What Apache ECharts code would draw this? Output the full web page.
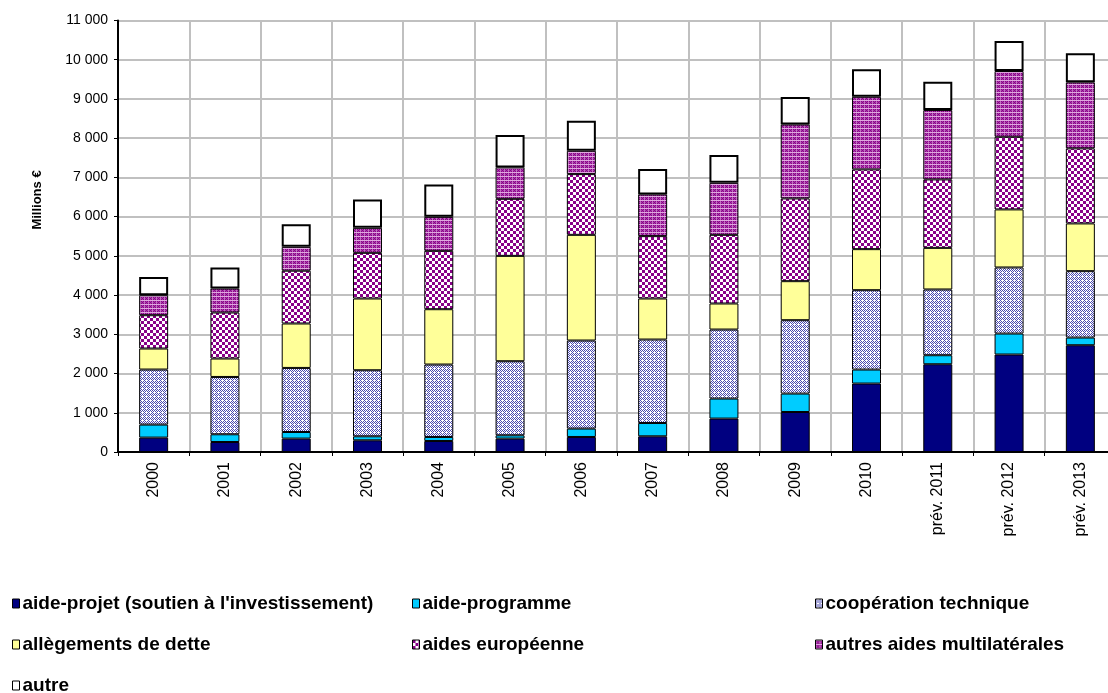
<!DOCTYPE html>
<html>
<head>
<meta charset="utf-8">
<title>Aide publique au développement</title>
<script src="https://cdn.jsdelivr.net/npm/echarts@6/dist/echarts.min.js"></script>
<style>
  html, body { margin: 0; padding: 0; background: #fff; }
  #chart { width: 1108px; height: 693px; }
</style>
</head>
<body>
<div id="chart"></div>
<script>
// années (axe des x)
var categories = ['2000', '2001', '2002', '2003', '2004', '2005', '2006', '2007', '2008', '2009', '2010', 'prév. 2011', 'prév. 2012', 'prév. 2013'];

// valeurs en millions d'euros
var aideProjet       = [367, 255, 342, 298, 281, 342, 383, 400, 852, 1020, 1745, 2237, 2485, 2722];
var aideProgramme    = [332, 197, 168, 102, 102, 84, 214, 340, 510, 470, 357, 230, 535, 196];
var coopTechnique    = [1403, 1461, 1633, 1684, 1847, 1888, 2245, 2127, 1760, 1870, 2023, 1676, 1684, 1692];
var allegementsDette = [536, 470, 1133, 1829, 1410, 2686, 2694, 1046, 664, 995, 1046, 1061, 1480, 1217];
var aidesEuropeenne  = [849, 1173, 1346, 1164, 1488, 1454, 1548, 1590, 1750, 2109, 2033, 1745, 1852, 1913];
var autresMulti      = [510, 612, 608, 637, 867, 801, 595, 1063, 1326, 1886, 1852, 1768, 1676, 1683];
var autre            = [467, 536, 579, 725, 826, 825, 765, 646, 707, 700, 699, 722, 765, 740];

var yMax = 11000;
var yStep = 1000;

// petits motifs façon Excel
function pattern (w, h, fn) {
  var c = document.createElement('canvas');
  c.width = w;
  c.height = h;
  var ctx = c.getContext('2d');
  for (var y = 0; y < h; y++) {
    for (var x = 0; x < w; x++) {
      ctx.fillStyle = fn(x, y);
      ctx.fillRect(x, y, 1, 1);
    }
  }
  return { image: c, repeat: 'repeat' };
}

var coopFill = pattern(4, 4, function (x, y) {
  return ((x + y) % 2 === 0 && !(x === 2 && y === 0)) ? '#4b4bb0' : '#ffffff';
});
var euroFill = pattern(6, 6, function (x, y) {
  return ((Math.floor(x / 3) + Math.floor(y / 3)) % 2 === 0) ? '#880088' : '#ffffff';
});
var multiFill = pattern(4, 4, function (x, y) {
  if (y === 0) return '#e0a8e0';
  if (x === 0) return '#c070c0';
  return (x + y) % 2 === 0 ? '#8a008a' : '#a840a8';
});

var font = '"Liberation Sans", Arial, sans-serif';

function serie (name, data, fill, bw) {
  return {
    name: name,
    type: 'bar',
    stack: 'total',
    barWidth: 29,
    data: data,
    itemStyle: { color: fill, borderColor: '#000', borderWidth: bw || 1 },
    emphasis: { disabled: true }
  };
}

function legendItem (name, left, top) {
  return {
    data: [name],
    left: left,
    top: top,
    padding: 0,
    itemWidth: 7,
    itemHeight: 9,
    icon: 'rect',
    itemStyle: { borderColor: '#000', borderWidth: 1 },
    textStyle: { fontFamily: font, fontSize: 19, fontWeight: 'bold', color: '#000', padding: [0, 0, 0, -2] },
    selectedMode: false
  };
}

var chart = echarts.init(document.getElementById('chart'));
chart.setOption({
  animation: false,
  grid: { left: 118, width: 998, top: 20.5, bottom: 241, outerBoundsMode: 'none', containLabel: false },
  xAxis: {
    type: 'category',
    data: categories,
    axisLine: { lineStyle: { color: '#000', width: 2 } },
    axisTick: { show: true, length: 4, lineStyle: { color: '#000', width: 1 } },
    splitLine: { show: true, lineStyle: { color: '#c0c0c0', width: 2 } },
    axisLabel: { rotate: 90, margin: 10, fontFamily: font, fontSize: 16, color: '#000' }
  },
  yAxis: {
    type: 'value',
    min: 0,
    max: yMax,
    interval: yStep,
    axisLine: { show: true, lineStyle: { color: '#000', width: 2 } },
    axisTick: { show: true, length: 4, lineStyle: { color: '#000', width: 1 } },
    splitLine: { show: true, lineStyle: { color: '#c0c0c0', width: 2 } },
    axisLabel: {
      margin: 10,
      fontFamily: font,
      fontSize: 14,
      color: '#000',
      formatter: function (v) {
        return String(v).replace(/\B(?=(\d{3})+(?!\d))/g, ' ');
      }
    }
  },
  graphic: [{
    type: 'text',
    x: 37,
    y: 200,
    rotation: Math.PI / 2,
    style: {
      text: 'Millions €',
      fontFamily: font,
      fontSize: 13,
      fontWeight: 'bold',
      fill: '#000',
      align: 'center',
      verticalAlign: 'middle'
    }
  }],
  legend: [
    legendItem("aide-projet (soutien à l'investissement)", 12, 594),
    legendItem('aide-programme', 412, 594),
    legendItem('coopération technique', 815, 594),
    legendItem('allègements de dette', 12, 635),
    legendItem('aides européenne', 412, 635),
    legendItem('autres aides multilatérales', 815, 635),
    legendItem('autre', 12, 676)
  ],
  series: [
    serie("aide-projet (soutien à l'investissement)", aideProjet, '#000080'),
    serie('aide-programme', aideProgramme, '#00ccff'),
    serie('coopération technique', coopTechnique, coopFill),
    serie('allègements de dette', allegementsDette, '#ffff99'),
    serie('aides européenne', aidesEuropeenne, euroFill),
    serie('autres aides multilatérales', autresMulti, multiFill),
    serie('autre', autre, '#ffffff', 2)
  ]
});
</script>
</body>
</html>
